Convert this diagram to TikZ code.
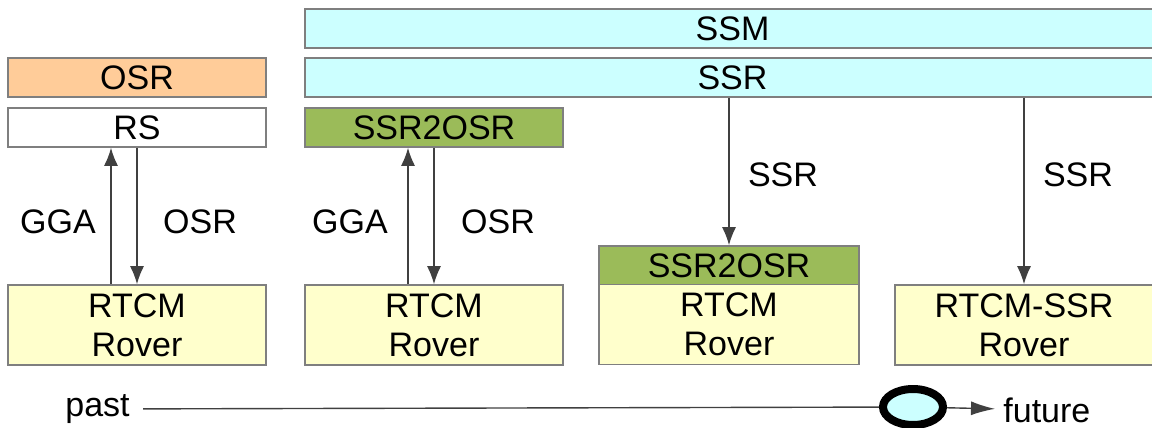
\documentclass[tikz,border=0pt]{standalone}
\usepackage{fontspec}
\setmainfont{Liberation Sans}
\usetikzlibrary{arrows.meta,shapes.geometric}
\definecolor{boxgray}{HTML}{7F7F7F}
\definecolor{osrorange}{HTML}{FFCC99}
\definecolor{ssrcyan}{HTML}{CCFFFF}
\definecolor{convgreen}{HTML}{9BBB59}
\definecolor{roveryellow}{HTML}{FFFFCC}
\definecolor{linegray}{HTML}{404040}
\tikzset{
  every node/.style={font=\fontsize{17}{19.5}\selectfont},
  box/.style={draw=boxgray, line width=0.8pt, inner sep=0pt,
    minimum width=129pt, minimum height=19.5pt},
  roverbox/.style={box, fill=roveryellow, minimum height=40pt, align=center},
  link/.style={draw=linegray, line width=0.7pt, -{Latex[length=9pt,width=7pt]}}
}
\begin{document}
\begin{tikzpicture}[x=0.5pt,y=-0.5pt]
\useasboundingbox (0,0) rectangle (1152,428);
% service layers
\node[box, fill=osrorange] (osr) at (137,77.5) {OSR};
\node[box, fill=white] (rs) at (137,127.5) {RS};
\node[box, fill=ssrcyan, minimum width=427.5pt] (ssm) at (732.5,28.5) {SSM};
\node[box, fill=ssrcyan, minimum width=427.5pt] (ssr) at (732.5,77.5) {SSR};
\node[box, fill=convgreen] (convB) at (434,127.5) {SSR2OSR};
\node[box, fill=convgreen, minimum width=130pt] (convC) at (729,265.5) {SSR2OSR};
% rovers
\node[roverbox] (roverA) at (137,325) {RTCM\\Rover};
\node[roverbox] (roverB) at (434,325) {RTCM\\Rover};
\node[roverbox, minimum width=130pt] (roverC) at (729,324.5) {RTCM\\Rover};
\node[roverbox] (roverD) at (1024,325) {RTCM-SSR\\Rover};
% messages
\draw[link] ([xshift=-13pt]roverA.north) -- ([xshift=-13pt]rs.south);
\draw[link] (rs.south) -- (roverA.north);
\draw[link] ([xshift=-13pt]roverB.north) -- ([xshift=-13pt]convB.south);
\draw[link] (convB.south) -- (roverB.north);
\draw[link] (ssr.south -| convC.north) -- (convC.north);
\draw[link] (ssr.south -| roverD.north) -- (roverD.north);
\node (ggaA) at (58,222) {GGA};
\node (osrA) at (200,222) {OSR};
\node (ggaB) at (350,222) {GGA};
\node (osrB) at (498,222) {OSR};
\node (ssrC) at (783,175) {SSR};
\node (ssrD) at (1078,175) {SSR};
% time line
\node[inner sep=6.5pt] (past) at (97.5,409) {past};
\node[ellipse, draw=black, line width=4pt, fill=ssrcyan, inner sep=0pt,
  minimum width=30pt, minimum height=18pt] (now) at (913,407) {};
\node[anchor=west, inner sep=4pt] (future) at (995,410) {future};
\draw[draw=linegray, line width=0.7pt] (past) -- (now);
\draw[draw=linegray, line width=0.7pt, -{Latex[length=12pt,width=7pt]}] (now) -- (future);
\end{tikzpicture}
\end{document}
